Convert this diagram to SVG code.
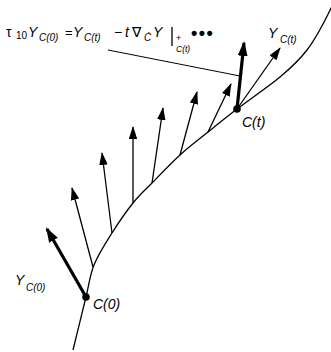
<svg xmlns="http://www.w3.org/2000/svg" width="331" height="352" viewBox="0 0 331 352">
<defs>
<marker id="ah" markerUnits="userSpaceOnUse" viewBox="0 0 13 8.5" refX="12" refY="4.25" markerWidth="13" markerHeight="8.5" orient="auto"><path d="M0,0 L13,4.25 L0,8.5 Z" fill="#000"/></marker>
<marker id="ahb" markerUnits="userSpaceOnUse" viewBox="0 0 15 10" refX="13" refY="5" markerWidth="15" markerHeight="10" orient="auto"><path d="M0,0 L15,5 L0,10 Z" fill="#000"/></marker>
</defs>
<style>
.t{font-family:"Liberation Sans",Arial,sans-serif;font-style:italic;fill:#000}
.u{font-family:"Liberation Sans",Arial,sans-serif;fill:#000}
.thin{stroke:#000;stroke-width:1.3;fill:none;marker-end:url(#ah)}
.bold{stroke:#000;stroke-width:3.2;fill:none;marker-end:url(#ahb)}
</style>
<g id="curve">
<path d="M73,350 C75.2,341.2 82.5,311.2 86,297 C89.5,282.8 89.7,275.7 94,265 C98.3,254.3 105.5,243.3 112,233 C118.5,222.7 126.3,211.3 133,203 C139.7,194.7 144.2,191 152,183 C159.8,175 170.7,163.5 180,155 C189.3,146.5 198.5,139.7 208,132 C217.5,124.3 225,118.2 237,109 C249,99.8 268.3,86.8 280,77 C291.7,67.2 298.5,61.2 307,50 C315.5,38.8 327,16.7 333,4" fill="none" stroke="#000" stroke-width="1.3"/>
</g>
<g id="connectors">
<line class="bold" x1="86" y1="297" x2="47" y2="229"/>
<line class="thin" x1="93" y1="267" x2="72" y2="188"/>
<line class="thin" x1="112" y1="233" x2="102" y2="153"/>
<line class="thin" x1="133" y1="203" x2="133" y2="127"/>
<line class="thin" x1="152" y1="183" x2="163" y2="108"/>
<line class="thin" x1="180" y1="155" x2="197" y2="92"/>
<line class="thin" x1="208" y1="132" x2="231" y2="84"/>
<line class="bold" x1="237" y1="109" x2="244" y2="43"/>
<line class="thin" x1="237" y1="109" x2="280" y2="48"/>
<line x1="108" y1="50" x2="240" y2="76" stroke="#000" stroke-width="1"/>
</g>
<g id="c0">
<circle cx="86" cy="297" r="3.8" fill="#000"/>
<text class="t" x="93" y="309" font-size="14">C(0)</text>
</g>
<g id="ct">
<circle cx="237" cy="109" r="3.8" fill="#000"/>
<text class="t" x="242" y="127" font-size="14">C(t)</text>
</g>
<g id="yc0">
<text class="t" x="15" y="285" font-size="14">Y</text>
<text class="t" x="26" y="291" font-size="10">C(0)</text>
</g>
<g id="yct">
<text class="t" x="268" y="38" font-size="14">Y</text>
<text class="t" x="280" y="43" font-size="10">C(t)</text>
</g>
<g id="equation">
<text class="u" x="6" y="37" font-size="14">τ</text>
<text class="u" x="16" y="39" font-size="10">10</text>
<text class="t" x="28" y="37" font-size="14">Y</text>
<text class="t" x="39" y="41" font-size="10">C(0)</text>
<text class="u" x="65" y="37" font-size="13">=</text>
<text class="t" x="73" y="37" font-size="14">Y</text>
<text class="t" x="84" y="41" font-size="10">C(t)</text>
<text class="u" x="114" y="37" font-size="14">−</text>
<text class="t" x="125" y="37" font-size="14">t</text>
<text class="u" x="132" y="37" font-size="14">∇</text>
<text class="t" x="144" y="41" font-size="10">Ċ</text>
<text class="t" x="153" y="37" font-size="14">Y</text>
<line x1="172" y1="27" x2="172" y2="46" stroke="#000" stroke-width="1.3"/>
<text class="u" x="176" y="41" font-size="9">+</text>
<text class="t" x="176" y="52" font-size="8.5">C(t)</text>
<text class="u" x="191" y="39" font-size="18" font-weight="bold" letter-spacing="1.5">•••</text>
</g>
</svg>
